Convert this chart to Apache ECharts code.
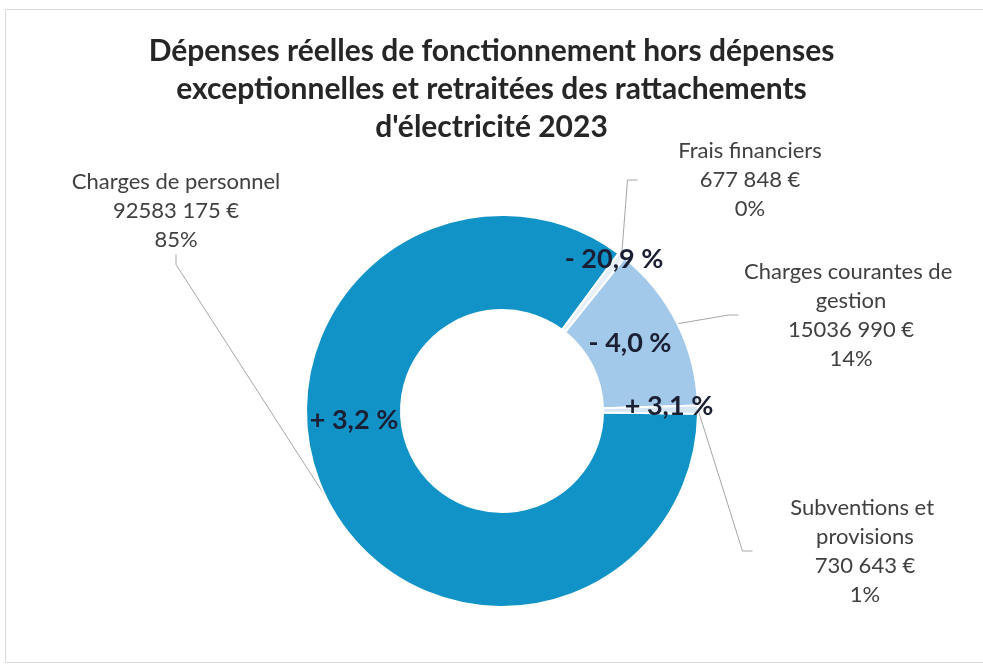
<!DOCTYPE html>
<html>
<head>
<meta charset="utf-8">
<title>Dépenses réelles de fonctionnement 2023</title>
<script src="https://cdn.jsdelivr.net/npm/echarts@6/dist/echarts.min.js"></script>
<style>
  html, body { margin: 0; padding: 0; background: #fff; }
  #main { width: 983px; height: 666px; }
</style>
</head>
<body>
<div id="main"></div>
<script>
// données
var categories = ['Charges de personnel', 'Frais financiers', 'Charges courantes de gestion', 'Subventions et provisions']
var amounts = [92583175, 677848, 15036990, 730643]
var amountLabels = ['92583 175 €', '677 848 €', '15036 990 €', '730 643 €']
var changeLabels = ['+ 3,2 %', '- 20,9 %', '- 4,0 %', '+ 3,1 %']
var sliceColors = ['#1193c8', '#e6eef8', '#a2c8ea', '#d6e6f5']

// emplacement des étiquettes (déplacées à la main dans l'original)
var outerLabelPos = [[176, 211], [750, 180], [851, 315], [865, 551]]
var innerLabelPos = [[354, 420], [614, 259], [630, 343], [669, 406]]

var font = 'Lato, "Open Sans", sans-serif'

var pieData = categories.map(function (name, i) {
  return { name: name, value: amounts[i], itemStyle: { color: sliceColors[i] } }
})

var myChart = echarts.init(document.getElementById('main'))

myChart.setOption({
  backgroundColor: '#ffffff',
  animation: false,
  title: {
    text: 'Dépenses réelles de fonctionnement hors dépenses\nexceptionnelles et retraitées des rattachements\nd\'électricité 2023',
    left: 'center',
    top: 27,
    textStyle: {
      fontFamily: font,
      fontSize: 30,
      fontWeight: 'bold',
      color: '#262626',
      lineHeight: 38
    }
  },
  graphic: [{
    type: 'rect',
    shape: { x: 5.5, y: 9.5, width: 990, height: 653 },
    style: { fill: 'none', stroke: '#d9d9d9', lineWidth: 1 },
    silent: true
  }],
  series: [
    {
      type: 'pie',
      center: [502, 411],
      radius: [101, 196],
      startAngle: -0.8,
      percentPrecision: 0,
      avoidLabelOverlap: false,
      itemStyle: { borderColor: '#ffffff', borderWidth: 2 },
      label: {
        show: true,
        position: 'outside',
        fontFamily: font,
        fontSize: 22,
        lineHeight: 29,
        color: '#404040',
        align: 'center',
        width: 225,
        overflow: 'break',
        formatter: function (p) {
          return p.name + '\n' + amountLabels[p.dataIndex] + '\n' + p.percent + '%'
        }
      },
      labelLine: {
        show: true,
        length: 10,
        length2: 10,
        lineStyle: { color: '#a6a6a6', width: 1 }
      },
      labelLayout: function (params) {
        var pos = outerLabelPos[params.dataIndex]
        return { x: pos[0], y: pos[1], align: 'center', verticalAlign: 'middle' }
      },
      data: pieData
    },
    {
      type: 'pie',
      center: [502, 411],
      radius: [101, 196],
      startAngle: -0.8,
      silent: true,
      z: 5,
      itemStyle: { color: 'rgba(0,0,0,0)', borderWidth: 0 },
      label: {
        show: true,
        position: 'inside',
        fontFamily: font,
        fontSize: 27,
        fontWeight: 'bold',
        color: '#1b1f33',
        formatter: function (p) {
          return changeLabels[p.dataIndex]
        }
      },
      labelLine: { show: false },
      labelLayout: function (params) {
        var pos = innerLabelPos[params.dataIndex]
        return { x: pos[0], y: pos[1], align: 'center', verticalAlign: 'middle' }
      },
      data: amounts.map(function (v, i) {
        return { name: categories[i], value: v }
      })
    }
  ]
})

window.onresize = function () {
  myChart.resize()
}
</script>
</body>
</html>
